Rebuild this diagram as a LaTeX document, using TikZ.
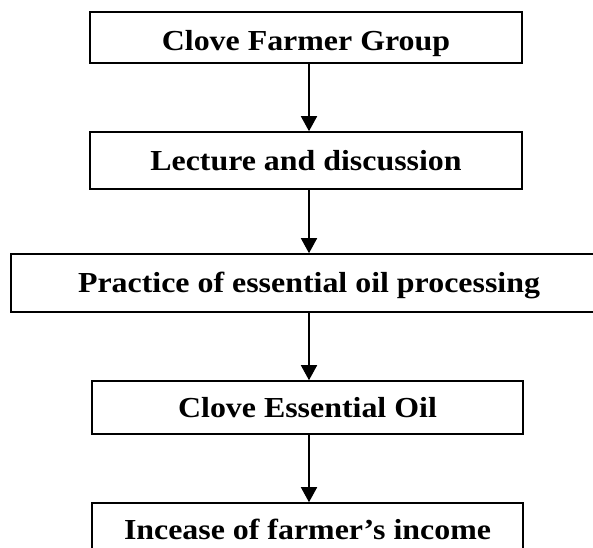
\documentclass[tikz,border=0pt]{standalone}
\usepackage{fontspec}
\setmainfont{Liberation Serif}[FakeStretch=1.1]
\usetikzlibrary{arrows.meta}
\begin{document}
\begin{tikzpicture}[x=1pt,y=-1pt,
  flowbox/.style={draw=black,line width=1.6pt,minimum height=#1,inner sep=0pt,
    font=\fontsize{29}{32}\selectfont\bfseries,text height=19pt,text depth=0pt},
  flowarrow/.style={line width=1.6pt,-{Triangle[length=15pt,width=16pt]}}]
\useasboundingbox (0,0) rectangle (593,547);
\node[flowbox=51pt,minimum width=432pt,text height=25pt] (b1) at (306,37.5) {Clove Farmer Group};
\node[flowbox=57pt,minimum width=432pt] (b2) at (306,160.5) {Lecture and discussion};
\node[flowbox=58pt,minimum width=596pt] (b3) at (309,283) {Practice of essential oil processing};
\node[flowbox=53pt,minimum width=431pt] (b4) at (307.5,407.5) {Clove Essential Oil};
\node[flowbox=53pt,minimum width=431pt] (b5) at (307.5,529.5) {Incease of farmer’s income};
\coordinate (ax) at (309,0);
\draw[flowarrow] (b1.south -| ax) -- (b2.north -| ax);
\draw[flowarrow] (b2.south -| ax) -- (b3.north -| ax);
\draw[flowarrow] (b3.south -| ax) -- (b4.north -| ax);
\draw[flowarrow] (b4.south -| ax) -- (b5.north -| ax);
\end{tikzpicture}
\end{document}
